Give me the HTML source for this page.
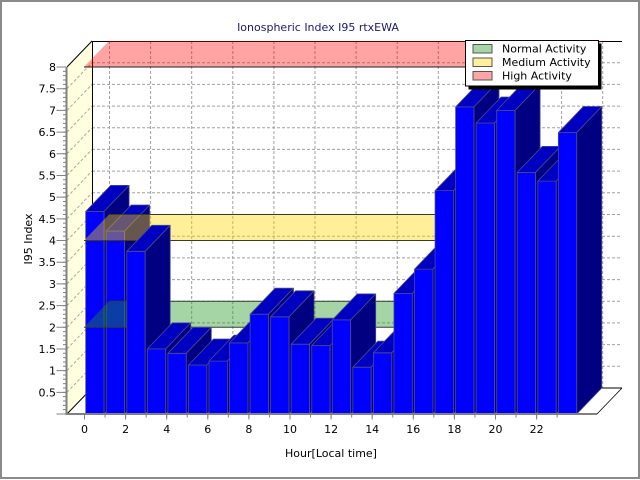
<!DOCTYPE html>
<html><head><meta charset="utf-8"><style>
html,body{margin:0;padding:0;background:#fff;}
svg{display:block;}
text{font-family:"DejaVu Sans","Liberation Sans",sans-serif;font-size:11px;}
.b rect,.b polygon{stroke:#4b4b8c;stroke-width:0.8;stroke-linejoin:round;}
</style></head><body>
<svg width="640" height="480" viewBox="0 0 640 480" xmlns="http://www.w3.org/2000/svg">
<rect x="0" y="0" width="640" height="480" fill="#fff"/>
<rect x="1" y="1" width="638" height="477" fill="none" stroke="#8a8a8a" stroke-width="2"/>

<!-- back wall -->
<rect x="92" y="41" width="530" height="347" fill="#fff"/>
<g stroke="#a0a0a0" stroke-width="1" stroke-dasharray="3,2">
<line x1="92" y1="366.3" x2="622" y2="366.3"/><line x1="92" y1="344.6" x2="622" y2="344.6"/>
<line x1="92" y1="322.9" x2="622" y2="322.9"/><line x1="92" y1="301.3" x2="622" y2="301.3"/>
<line x1="92" y1="279.6" x2="622" y2="279.6"/><line x1="92" y1="257.9" x2="622" y2="257.9"/>
<line x1="92" y1="236.2" x2="622" y2="236.2"/><line x1="92" y1="214.5" x2="622" y2="214.5"/>
<line x1="92" y1="192.8" x2="622" y2="192.8"/><line x1="92" y1="171.1" x2="622" y2="171.1"/>
<line x1="92" y1="149.4" x2="622" y2="149.4"/><line x1="92" y1="127.8" x2="622" y2="127.8"/>
<line x1="92" y1="106.1" x2="622" y2="106.1"/><line x1="92" y1="84.4" x2="622" y2="84.4"/>
<line x1="92" y1="62.7" x2="622" y2="62.7"/>
<line x1="109.5" y1="41" x2="109.5" y2="388"/><line x1="150.6" y1="41" x2="150.6" y2="388"/>
<line x1="191.7" y1="41" x2="191.7" y2="388"/><line x1="232.8" y1="41" x2="232.8" y2="388"/>
<line x1="273.9" y1="41" x2="273.9" y2="388"/><line x1="315" y1="41" x2="315" y2="388"/>
<line x1="356.1" y1="41" x2="356.1" y2="388"/><line x1="397.2" y1="41" x2="397.2" y2="388"/>
<line x1="438.3" y1="41" x2="438.3" y2="388"/><line x1="479.4" y1="41" x2="479.4" y2="388"/>
<line x1="520.5" y1="41" x2="520.5" y2="388"/><line x1="561.6" y1="41" x2="561.6" y2="388"/>
<line x1="602.7" y1="41" x2="602.7" y2="388"/>
</g>
<line x1="92" y1="41.5" x2="622" y2="41.5" stroke="#000" stroke-width="1"/>

<!-- floor -->
<polygon points="67,414 597,414 622,388 92,388" fill="#fff"/>
<line x1="92" y1="388" x2="622" y2="388" stroke="#000" stroke-width="1"/>
<line x1="597" y1="414" x2="622" y2="388" stroke="#000" stroke-width="0.8"/>

<!-- left wall -->
<polygon points="67,67 92,41 92,388 67,414" fill="#ffffe0"/>
<g stroke="#a8a8a8" stroke-width="1" stroke-dasharray="3,2">
<line x1="67" y1="392.3" x2="92" y2="366.3"/><line x1="67" y1="370.6" x2="92" y2="344.6"/>
<line x1="67" y1="348.9" x2="92" y2="322.9"/><line x1="67" y1="327.3" x2="92" y2="301.3"/>
<line x1="67" y1="305.6" x2="92" y2="279.6"/><line x1="67" y1="283.9" x2="92" y2="257.9"/>
<line x1="67" y1="262.2" x2="92" y2="236.2"/><line x1="67" y1="240.5" x2="92" y2="214.5"/>
<line x1="67" y1="218.8" x2="92" y2="192.8"/><line x1="67" y1="197.1" x2="92" y2="171.1"/>
<line x1="67" y1="175.4" x2="92" y2="149.4"/><line x1="67" y1="153.8" x2="92" y2="127.8"/>
<line x1="67" y1="132.1" x2="92" y2="106.1"/><line x1="67" y1="110.4" x2="92" y2="84.4"/>
<line x1="67" y1="88.7" x2="92" y2="62.7"/>
</g>
<line x1="67" y1="67" x2="92" y2="41" stroke="#000" stroke-width="1"/>
<line x1="92.5" y1="41" x2="92.5" y2="388" stroke="#000" stroke-width="1"/>
<line x1="67" y1="414" x2="92" y2="388" stroke="#000" stroke-width="1"/>

<!-- bars 0-1 -->
<g class="b">
<g transform="translate(85.7,0)"><rect x="0" y="211.4" width="18.4" height="202.6" fill="#0000ff"/><polygon points="0,211.4 18.4,211.4 43.4,185.4 25,185.4" fill="#0000c0"/><polygon points="18.4,211.4 43.4,185.4 43.4,388 18.4,414" fill="#000080"/></g>
<g transform="translate(106.25,0)"><rect x="0" y="231" width="18.4" height="183" fill="#0000ff"/><polygon points="0,231 18.4,231 43.4,205 25,205" fill="#0000c0"/><polygon points="18.4,231 43.4,205 43.4,388 18.4,414" fill="#000080"/></g>
</g>

<!-- threshold planes -->
<polygon points="84,327.25 577,327.25 602,301.25 109,301.25" fill="rgba(30,150,30,0.4)"/>
<line x1="84" y1="327.25" x2="577" y2="327.25" stroke="#304030" stroke-width="1"/>
<line x1="109" y1="301.25" x2="602" y2="301.25" stroke="#304030" stroke-width="1"/>
<polygon points="84,240.5 577,240.5 602,214.5 109,214.5" fill="rgba(255,215,0,0.4)"/>
<line x1="84" y1="240.5" x2="577" y2="240.5" stroke="#403a20" stroke-width="1"/>
<line x1="109" y1="214.5" x2="602" y2="214.5" stroke="#403a20" stroke-width="1"/>
<polygon points="84,67 577,67 602,41 109,41" fill="rgba(255,0,0,0.36)"/>
<line x1="84" y1="67" x2="577" y2="67" stroke="#202020" stroke-width="1"/>

<!-- bars 2-23 -->
<g class="b">
<g transform="translate(126.8,0)"><rect x="0" y="251.3" width="18.4" height="162.7" fill="#0000ff"/><polygon points="0,251.3 18.4,251.3 43.4,225.3 25,225.3" fill="#0000c0"/><polygon points="18.4,251.3 43.4,225.3 43.4,388 18.4,414" fill="#000080"/></g>
<g transform="translate(147.35,0)"><rect x="0" y="348.9" width="18.4" height="65.1" fill="#0000ff"/><polygon points="0,348.9 18.4,348.9 43.4,322.9 25,322.9" fill="#0000c0"/><polygon points="18.4,348.9 43.4,322.9 43.4,388 18.4,414" fill="#000080"/></g>
<g transform="translate(167.9,0)"><rect x="0" y="353.3" width="18.4" height="60.7" fill="#0000ff"/><polygon points="0,353.3 18.4,353.3 43.4,327.3 25,327.3" fill="#0000c0"/><polygon points="18.4,353.3 43.4,327.3 43.4,388 18.4,414" fill="#000080"/></g>
<g transform="translate(188.45,0)"><rect x="0" y="365" width="18.4" height="49" fill="#0000ff"/><polygon points="0,365 18.4,365 43.4,339 25,339" fill="#0000c0"/><polygon points="18.4,365 43.4,339 43.4,388 18.4,414" fill="#000080"/></g>
<g transform="translate(209,0)"><rect x="0" y="361.1" width="18.4" height="52.9" fill="#0000ff"/><polygon points="0,361.1 18.4,361.1 43.4,335.1 25,335.1" fill="#0000c0"/><polygon points="18.4,361.1 43.4,335.1 43.4,388 18.4,414" fill="#000080"/></g>
<g transform="translate(229.55,0)"><rect x="0" y="342.9" width="18.4" height="71.1" fill="#0000ff"/><polygon points="0,342.9 18.4,342.9 43.4,316.9 25,316.9" fill="#0000c0"/><polygon points="18.4,342.9 43.4,316.9 43.4,388 18.4,414" fill="#000080"/></g>
<g transform="translate(250.1,0)"><rect x="0" y="314.2" width="18.4" height="99.8" fill="#0000ff"/><polygon points="0,314.2 18.4,314.2 43.4,288.2 25,288.2" fill="#0000c0"/><polygon points="18.4,314.2 43.4,288.2 43.4,388 18.4,414" fill="#000080"/></g>
<g transform="translate(270.65,0)"><rect x="0" y="316.8" width="18.4" height="97.2" fill="#0000ff"/><polygon points="0,316.8 18.4,316.8 43.4,290.8 25,290.8" fill="#0000c0"/><polygon points="18.4,316.8 43.4,290.8 43.4,388 18.4,414" fill="#000080"/></g>
<g transform="translate(291.2,0)"><rect x="0" y="344.2" width="18.4" height="69.8" fill="#0000ff"/><polygon points="0,344.2 18.4,344.2 43.4,318.2 25,318.2" fill="#0000c0"/><polygon points="18.4,344.2 43.4,318.2 43.4,388 18.4,414" fill="#000080"/></g>
<g transform="translate(311.75,0)"><rect x="0" y="345.5" width="18.4" height="68.5" fill="#0000ff"/><polygon points="0,345.5 18.4,345.5 43.4,319.5 25,319.5" fill="#0000c0"/><polygon points="18.4,345.5 43.4,319.5 43.4,388 18.4,414" fill="#000080"/></g>
<g transform="translate(332.3,0)"><rect x="0" y="319.9" width="18.4" height="94.1" fill="#0000ff"/><polygon points="0,319.9 18.4,319.9 43.4,293.9 25,293.9" fill="#0000c0"/><polygon points="18.4,319.9 43.4,293.9 43.4,388 18.4,414" fill="#000080"/></g>
<g transform="translate(352.85,0)"><rect x="0" y="367.2" width="18.4" height="46.8" fill="#0000ff"/><polygon points="0,367.2 18.4,367.2 43.4,341.2 25,341.2" fill="#0000c0"/><polygon points="18.4,367.2 43.4,341.2 43.4,388 18.4,414" fill="#000080"/></g>
<g transform="translate(373.4,0)"><rect x="0" y="352.8" width="18.4" height="61.2" fill="#0000ff"/><polygon points="0,352.8 18.4,352.8 43.4,326.8 25,326.8" fill="#0000c0"/><polygon points="18.4,352.8 43.4,326.8 43.4,388 18.4,414" fill="#000080"/></g>
<g transform="translate(393.95,0)"><rect x="0" y="293.4" width="18.4" height="120.6" fill="#0000ff"/><polygon points="0,293.4 18.4,293.4 43.4,267.4 25,267.4" fill="#0000c0"/><polygon points="18.4,293.4 43.4,267.4 43.4,388 18.4,414" fill="#000080"/></g>
<g transform="translate(414.5,0)"><rect x="0" y="269.1" width="18.4" height="144.9" fill="#0000ff"/><polygon points="0,269.1 18.4,269.1 43.4,243.1 25,243.1" fill="#0000c0"/><polygon points="18.4,269.1 43.4,243.1 43.4,388 18.4,414" fill="#000080"/></g>
<g transform="translate(435.05,0)"><rect x="0" y="190.6" width="18.4" height="223.4" fill="#0000ff"/><polygon points="0,190.6 18.4,190.6 43.4,164.6 25,164.6" fill="#0000c0"/><polygon points="18.4,190.6 43.4,164.6 43.4,388 18.4,414" fill="#000080"/></g>
<g transform="translate(455.6,0)"><rect x="0" y="106.9" width="18.4" height="307.1" fill="#0000ff"/><polygon points="0,106.9 18.4,106.9 43.4,80.9 25,80.9" fill="#0000c0"/><polygon points="18.4,106.9 43.4,80.9 43.4,388 18.4,414" fill="#000080"/></g>
<g transform="translate(476.15,0)"><rect x="0" y="123" width="18.4" height="291" fill="#0000ff"/><polygon points="0,123 18.4,123 43.4,97 25,97" fill="#0000c0"/><polygon points="18.4,123 43.4,97 43.4,388 18.4,414" fill="#000080"/></g>
<g transform="translate(496.7,0)"><rect x="0" y="110.4" width="18.4" height="303.6" fill="#0000ff"/><polygon points="0,110.4 18.4,110.4 43.4,84.4 25,84.4" fill="#0000c0"/><polygon points="18.4,110.4 43.4,84.4 43.4,388 18.4,414" fill="#000080"/></g>
<g transform="translate(517.25,0)"><rect x="0" y="172.4" width="18.4" height="241.6" fill="#0000ff"/><polygon points="0,172.4 18.4,172.4 43.4,146.4 25,146.4" fill="#0000c0"/><polygon points="18.4,172.4 43.4,146.4 43.4,388 18.4,414" fill="#000080"/></g>
<g transform="translate(537.8,0)"><rect x="0" y="181.1" width="18.4" height="232.9" fill="#0000ff"/><polygon points="0,181.1 18.4,181.1 43.4,155.1 25,155.1" fill="#0000c0"/><polygon points="18.4,181.1 43.4,155.1 43.4,388 18.4,414" fill="#000080"/></g>
<g transform="translate(558.35,0)"><rect x="0" y="132.5" width="18.4" height="281.5" fill="#0000ff"/><polygon points="0,132.5 18.4,132.5 43.4,106.5 25,106.5" fill="#0000c0"/><polygon points="18.4,132.5 43.4,106.5 43.4,388 18.4,414" fill="#000080"/></g>
</g>

<!-- axes -->
<line x1="66.5" y1="67" x2="66.5" y2="415" stroke="#808080" stroke-width="2"/>
<line x1="66" y1="414" x2="597" y2="414" stroke="#808080" stroke-width="2"/>
<line x1="64.5" y1="66.5" x2="64.5" y2="414.5" stroke="#808080" stroke-width="3" stroke-dasharray="1 3.3375"/>
<line x1="61" y1="66.5" x2="61" y2="414.5" stroke="#808080" stroke-width="9" stroke-dasharray="1 20.6875"/>
<line x1="84" y1="416" x2="560" y2="416" stroke="#808080" stroke-width="3" stroke-dasharray="1 19.55"/>
<line x1="84" y1="417" x2="560" y2="417" stroke="#808080" stroke-width="5" stroke-dasharray="1 40.1"/>

<!-- y labels -->
<g fill="#000" text-anchor="end">
<text x="56" y="396.3">0.5</text><text x="56" y="374.6">1</text><text x="56" y="352.9">1.5</text>
<text x="56" y="331.3">2</text><text x="56" y="309.6">2.5</text><text x="56" y="287.9">3</text>
<text x="56" y="266.2">3.5</text><text x="56" y="244.5">4</text><text x="56" y="222.8">4.5</text>
<text x="56" y="201.1">5</text><text x="56" y="179.4">5.5</text><text x="56" y="157.8">6</text>
<text x="56" y="136.1">6.5</text><text x="56" y="114.4">7</text><text x="56" y="92.7">7.5</text>
<text x="56" y="71">8</text>
</g>
<!-- x labels -->
<g fill="#000" text-anchor="middle">
<text x="84.5" y="433">0</text><text x="125.6" y="433">2</text><text x="166.7" y="433">4</text>
<text x="207.8" y="433">6</text><text x="248.9" y="433">8</text><text x="290" y="433">10</text>
<text x="331.1" y="433">12</text><text x="372.2" y="433">14</text><text x="413.3" y="433">16</text>
<text x="454.4" y="433">18</text><text x="495.5" y="433">20</text><text x="536.6" y="433">22</text>
</g>

<text x="318" y="31" text-anchor="middle" fill="#191970">Ionospheric Index I95 rtxEWA</text>
<text x="331" y="457" text-anchor="middle" fill="#000">Hour[Local time]</text>
<text transform="translate(32,239) rotate(-90)" text-anchor="middle" fill="#000">I95 Index</text>

<!-- legend -->
<rect x="468.5" y="43.5" width="133" height="46" fill="#000"/>
<rect x="465.5" y="40.5" width="133" height="45.5" fill="#fff" stroke="#000" stroke-width="1"/>
<rect x="473" y="44.5" width="19" height="8.5" fill="#a6d6a6" stroke="#555" stroke-width="1"/>
<rect x="473" y="58" width="19" height="8.5" fill="#ffef9a" stroke="#555" stroke-width="1"/>
<rect x="473" y="71.5" width="19" height="8.5" fill="#ffa5a5" stroke="#555" stroke-width="1"/>
<text x="502" y="52.5" fill="#000">Normal Activity</text>
<text x="502" y="66" fill="#000">Medium Activity</text>
<text x="502" y="79.5" fill="#000">High Activity</text>
</svg>
</body></html>
